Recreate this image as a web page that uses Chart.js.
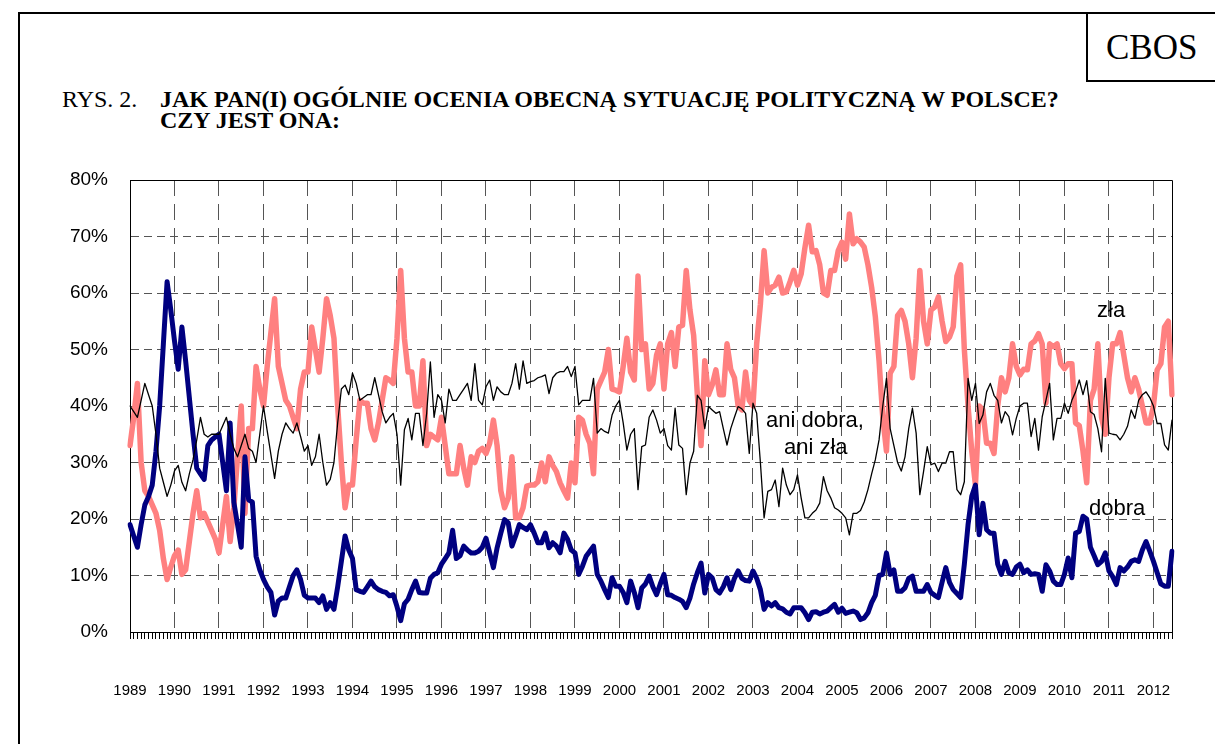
<!DOCTYPE html>
<html>
<head>
<meta charset="utf-8">
<script src="https://cdn.jsdelivr.net/npm/chart.js@4.4.0/dist/chart.umd.min.js"></script>
<style>
  html, body { margin: 0; padding: 0; background: #fff; }
  #wrap { position: relative; width: 1215px; height: 744px; overflow: hidden; }
  #frame { position: absolute; left: 18px; top: 12px; width: 1400px; height: 1000px;
           border-left: 2px solid #000; border-top: 2px solid #000; }
  #cbos { position: absolute; left: 1086px; top: 12px; width: 200px; height: 68px;
          border-left: 2px solid #000; border-bottom: 2px solid #000; }
  canvas { position: absolute; left: 0; top: 0; }
  .t { position: absolute; white-space: nowrap; color: #000; }
  .serif { font-family: 'Liberation Serif', 'Times New Roman', serif; font-size: 24px; line-height: 24px; }
  .note { font-family: 'Liberation Sans', Arial, sans-serif; font-size: 22px; line-height: 22px; }
</style>
</head>
<body>
<div id="wrap">
  <div id="frame"></div>
  <div id="cbos"></div>
  <div class="t serif" style="left:1106px;top:30px;font-size:35px;line-height:35px;">CBOS</div>
  <div class="t serif" style="left:62px;top:87px;">RYS. 2.</div>
  <div class="t serif" style="left:160px;top:87px;font-weight:bold;">JAK PAN(I) OGÓLNIE OCENIA OBECNĄ SYTUACJĘ POLITYCZNĄ W POLSCE?</div>
  <div class="t serif" style="left:160px;top:108px;font-weight:bold;">CZY JEST ONA:</div>
  <canvas id="chart" width="1215" height="744"></canvas>
  <div class="t note" style="left:1097px;top:299px;">zła</div>
  <div class="t note" style="left:1089px;top:497px;">dobra</div>
  <div class="t note" style="left:766px;top:409px;">ani dobra,</div>
  <div class="t note" style="left:784px;top:436px;">ani zła</div>
</div>
<script>
// years on the axis, monthly readings; the last year stops in June
const years = [1989, 1990, 1991, 1992, 1993, 1994, 1995, 1996, 1997, 1998, 1999, 2000,
               2001, 2002, 2003, 2004, 2005, 2006, 2007, 2008, 2009, 2010, 2011, 2012];
const monthsLastYear = 6;

// "dobra" - one row per year
const dobra = [
  19, 17, 15, 19, 22.5, 24, 26, 32, 40, 51, 62, 57,
  51.5, 46.5, 54, 48, 41.5, 35, 29, 28, 27, 33, 34, 34.5,
  35, 30, 25, 37, 23, 19, 15, 31, 23.4, 23, 13.4, 11,
  9.3, 8, 7, 3, 5.5, 6, 6, 8, 10, 11, 9.3, 6.5,
  6, 6, 6, 5.2, 6.4, 4, 5.2, 4, 8, 12.5, 17, 14.5,
  13, 7.5, 7.2, 7, 8, 9, 8, 7.5, 7.2, 7, 6.4, 6.6,
  4.5, 2, 5, 5.8, 7.5, 9, 7, 6.9, 6.9, 9.5, 10.2, 10.5,
  12, 13, 14, 18, 13, 13.5, 15.2, 14.5, 14, 14, 14.3, 15,
  16.6, 14, 11.4, 14.9, 17.5, 19.9, 19.3, 15.2, 17, 19, 18.5, 18.1,
  19, 17.5, 15.8, 15.8, 17.5, 14.9, 15.8, 15.2, 14, 17.5, 16.4, 14.5,
  14, 10.2, 11.6, 13.4, 14.3, 15.2, 10.2, 9, 7.5, 6.1, 9.6, 8.1,
  8.1, 7, 5.2, 9, 7, 4.3, 7.8, 8.5, 9.9, 8, 6.6, 8.5,
  10.2, 6.6, 6.5, 6.1, 5.8, 5.4, 4.3, 6, 8.5, 10.5, 12.2, 6.9,
  10.2, 9.6, 7.5, 6.9, 8, 9.6, 7.5, 9.5, 10.8, 9.5, 9.1, 9,
  10.8, 9.5, 7.5, 4, 5.2, 4.6, 5.2, 4.3, 4.1, 3.5, 3.2, 4.3,
  4.3, 4.3, 3.4, 2.2, 3.5, 3.6, 3.2, 3.5, 3.7, 4.3, 4.9, 3.5,
  4.2, 3.3, 3.5, 3.7, 3.4, 2.2, 2.5, 3.4, 5.2, 6.5, 10, 10.2,
  14, 10.2, 11, 7.2, 7.2, 7.8, 9.5, 9.9, 7.2, 7.2, 7.2, 8.4,
  7, 6.5, 6.1, 8.8, 11.4, 8.8, 7.5, 6.8, 6.1, 12, 19, 24,
  26, 17.2, 22.8, 18.1, 17.5, 17.5, 12, 10.2, 12.5, 10.5, 10.2, 11.5,
  12, 10.5, 11, 10.2, 10.3, 10.2, 7.2, 11.9, 10.8, 9, 8.4, 8.4,
  10.2, 13.1, 9.6, 17.5, 17.8, 20.5, 20, 15, 13.5, 11.9, 12.5, 14,
  10.8, 9.8, 8.4, 11.4, 10.8, 11.5, 12.5, 12.8, 12.5, 14.5, 16, 14.3,
  12.5, 10.5, 8.5, 8.1, 8.1, 14.3
];

// "zła"
const zla = [
  33, 38, 44, 30, 25, 24, 22.5, 21, 18, 13, 9.3, 11.5,
  13.5, 14.5, 10.2, 11, 16, 21, 25, 20.2, 21, 19.5, 18, 16.5,
  14, 19, 24, 16, 22, 31, 40, 21, 36, 36, 47, 43,
  40, 47, 53, 59, 47, 44, 41, 40, 38, 36, 43, 46,
  46, 54, 50, 46, 52, 59, 56, 52, 40, 30, 22, 26,
  26, 34, 41, 40.5, 40.5, 36, 34, 37, 41, 45, 44.6, 44,
  52, 64, 52, 46, 46, 40, 40, 48, 33, 35, 34.5, 34,
  38, 33, 28, 28, 28, 33, 29, 26, 31, 30, 32, 32.5,
  31.6, 33.4, 37.5, 33, 25, 22, 23.7, 31, 20.2, 20.2, 22, 25.8,
  26, 26, 26.6, 29.9, 26.6, 31, 29.5, 28.4, 26.4, 25, 23.7, 29.9,
  26.4, 38, 37.5, 35, 33.4, 28, 43, 44.5, 46, 50, 43, 42.8,
  42.5, 47, 52, 46, 44.6, 63, 50, 51, 43, 44, 49, 51,
  43, 51, 53, 47, 54, 54.3, 64, 57, 52.5, 42, 33, 48,
  42, 43.7, 46.4, 42, 42, 51, 46.5, 45, 40, 39.3, 46, 41,
  40, 51, 58, 67.5, 60, 61, 61.4, 62.8, 60, 60.2, 62, 64,
  61.4, 63.4, 68, 72, 67.3, 67.5, 65, 60, 59.6, 64, 64, 67.5,
  69, 66, 74, 68.7, 69.6, 69, 68.1, 65, 61, 55.8, 48, 38,
  32, 45.8, 47, 56, 56.9, 55, 51, 45, 52, 64, 55, 51,
  57, 57.5, 59.3, 55, 51.4, 52.2, 54, 63, 65, 50, 40, 32,
  26, 40, 39.3, 33.4, 33.4, 31.6, 40, 45, 42.5, 45, 51, 47,
  45.5, 46.5, 46.4, 51, 51.5, 52.8, 51, 40.5, 51, 50.5, 51, 47.5,
  46.6, 47.5, 47.5, 37, 36.5, 32, 26.4, 41, 43, 51, 38, 35,
  45, 51, 51, 53, 49, 45, 42.5, 45, 43, 40, 37, 37,
  40, 46.4, 47.5, 54, 55, 42
];

// "ani dobra, ani zła"
const ani = [
  40, 39, 38, 41, 44, 42, 40, 35, 29, 26.5, 24, 26,
  28.5, 29.5, 26.5, 25, 28, 30.5, 34, 38, 35, 34.5, 35, 35,
  35, 36.5, 38, 35, 32.5, 31, 33, 35, 32.5, 32, 30, 35,
  40, 35.6, 31.4, 27.2, 32, 35, 37, 36, 35.2, 37, 34.6, 32,
  33, 29.5, 31, 35, 30, 26, 27, 30, 37, 43, 43.7, 42,
  45.8, 44, 41, 41.5, 42, 42, 45, 42, 39, 37, 38, 38.7,
  35, 26, 35.8, 37.8, 34, 38.7, 38.7, 33, 38.7, 47.8, 38, 42,
  41, 37, 43, 41, 41, 42, 43, 44, 41, 47.5, 41, 40.2,
  43.4, 44.6, 41, 43.4, 42.5, 42, 42, 44, 47.5, 43, 48, 44,
  44.3, 44.5, 45, 45.2, 45.5, 42.2, 45, 45.8, 46.1, 46.1, 47, 45.2,
  47, 40.2, 41, 41, 41, 44.9, 35.2, 36, 35.5, 35.2, 38.4, 40,
  41, 37, 32.2, 35, 36, 25.2, 32.8, 33.1, 38, 39.3, 37.5, 35.2,
  36, 33, 32.2, 39.6, 33.1, 32.5, 24.3, 29.9, 32, 41.9, 41, 36,
  39.9, 39.3, 38.7, 39, 36, 33.1, 36, 38, 39.9, 39.5, 38.7, 31.6,
  40.5, 38.7, 30, 20.2, 24.9, 25.2, 26.9, 22.2, 29, 26, 24.3, 25.2,
  27.8, 23.7, 20.2, 20.2, 21, 21.6, 22.8, 27.5, 25, 23.7, 22, 21.6,
  21, 20.2, 17.2, 21, 21, 21.5, 23, 25.2, 28, 30.5, 34, 40,
  44.9, 36, 33, 30, 28.5, 31, 36, 39.6, 35.2, 24.3, 28.4, 32.8,
  29.6, 29.9, 28.4, 29.9, 29.9, 31.9, 31.9, 25.2, 24.3, 26.6, 44.9, 41,
  44, 36.9, 38.4, 42.5, 44, 41.9, 41, 37, 39, 38.1, 34.9, 37.8,
  40, 40.5, 40.5, 34.6, 37.8, 32.2, 38.1, 41, 44, 34, 37.8, 37.8,
  40.5, 38.7, 41, 42.5, 44.6, 42, 44.5, 39, 38.5, 36, 31.9, 44.9,
  35.2, 35, 34.9, 34, 35, 36.4, 39.3, 37.8, 41, 42, 42.5, 41.5,
  40, 36.9, 36.9, 33.1, 32.2, 37.5
];

// one category per month
const labels = [];
years.forEach((y, i) => {
  const n = i === years.length - 1 ? monthsLastYear : 12;
  for (let m = 1; m <= n; m++) labels.push(y + '-' + String(m).padStart(2, '0'));
});
const isYearStart = i => labels[i] !== undefined && labels[i].endsWith('-01');

Chart.defaults.font.family = "'Liberation Sans', Arial, sans-serif";
Chart.defaults.color = '#000';

// top and right edge of the plot box
const plotFrame = {
  id: 'plotFrame',
  beforeDatasetsDraw(chart) {
    const { ctx, chartArea: { left, top, right, bottom } } = chart;
    ctx.save();
    ctx.strokeStyle = '#000';
    ctx.lineWidth = 1;
    ctx.beginPath();
    ctx.moveTo(left, Math.floor(top) + 0.5);
    ctx.lineTo(Math.floor(right) + 0.5, Math.floor(top) + 0.5);
    ctx.lineTo(Math.floor(right) + 0.5, bottom);
    ctx.stroke();
    ctx.restore();
  }
};

new Chart(document.getElementById('chart'), {
  type: 'line',
  data: {
    labels,
    datasets: [
      { label: 'ani dobra, ani zła', data: ani, borderColor: '#000', borderWidth: 1.3 },
      { label: 'dobra', data: dobra, borderColor: '#000080', borderWidth: 5 },
      { label: 'zła', data: zla, borderColor: '#ff8080', borderWidth: 5.5 }
    ]
  },
  options: {
    responsive: false,
    animation: false,
    devicePixelRatio: 1,
    layout: { padding: { top: 180, right: 43, left: 0, bottom: 0 } },
    elements: {
      point: { radius: 0 },
      line: { tension: 0, borderJoinStyle: 'round', borderCapStyle: 'round' }
    },
    plugins: { legend: { display: false }, tooltip: { enabled: false } },
    scales: {
      x: {
        afterFit(scale) { scale.height = 112; },
        grid: {
          color: ctx => (ctx.index > 0 && isYearStart(ctx.index)) ? '#555' : 'rgba(0,0,0,0)',
          lineWidth: 1,
          tickColor: '#000',
          tickLength: 7,
          tickBorderDash: []
        },
        border: { display: true, color: '#000', width: 1, dash: [16, 8] },
        ticks: {
          autoSkip: false,
          maxRotation: 0,
          minRotation: 0,
          padding: 43,
          font: { size: 15 },
          callback: (v, i) => isYearStart(i) ? labels[i].slice(0, 4) : ''
        }
      },
      y: {
        min: 0,
        max: 80,
        afterFit(scale) { scale.width = 130; },
        grid: {
          color: ctx => ctx.tick && ctx.tick.value > 0 ? '#555' : 'rgba(0,0,0,0)',
          lineWidth: 1,
          drawTicks: false
        },
        border: { display: true, color: '#000', width: 1, dash: [8, 5] },
        ticks: {
          stepSize: 10,
          padding: 22,
          font: { size: 19 },
          callback: v => v + '%'
        }
      }
    }
  },
  plugins: [plotFrame]
});
</script>
</body>
</html>
